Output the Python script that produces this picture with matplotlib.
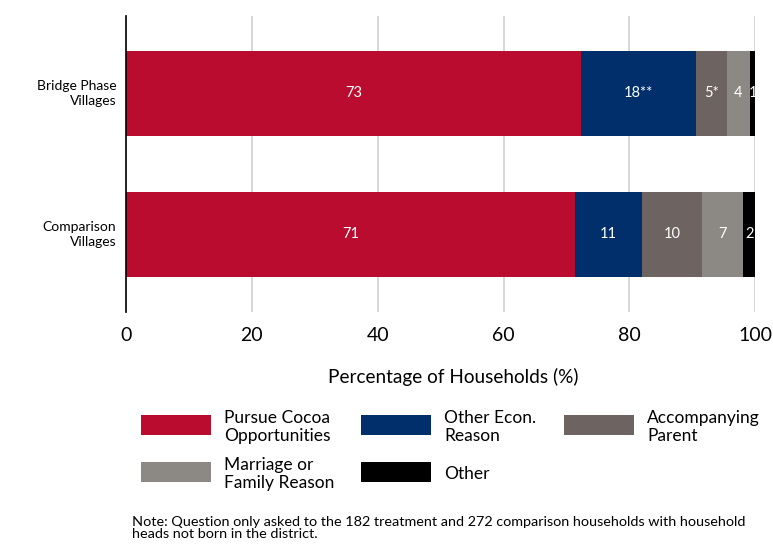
import numpy as np
import matplotlib.pyplot as plt
from matplotlib.patches import Rectangle

plt.rcParams['font.family'] = ['Lato', 'DejaVu Sans']

groups = ["Comparison\nVillages", "Bridge Phase\nVillages"]
categories = ["Pursue Cocoa\nOpportunities", "Other Econ.\nReason", "Accompanying\nParent",
              "Marriage or\nFamily Reason", "Other"]
# values per category: [Comparison, Bridge]
pursue = [71.4, 72.3]
econ = [10.6, 18.3]
parent = [9.6, 4.9]
family = [6.5, 3.7]
other = [1.9, 0.8]
labels_cmp = ["71", "11", "10", "7", "2"]
labels_bridge = ["73", "18**", "5*", "4", "1"]
colors = ["#BA0C2F", "#002F6C", "#6D6462", "#8C8984", "#000000"]
xticks = [0, 20, 40, 60, 80, 100]

series = [pursue, econ, parent, family, other]
bar_labels = [labels_cmp, labels_bridge]

W, H = 773, 545
fig = plt.figure(figsize=(W / 100, H / 100), dpi=100)
ax = fig.add_axes([0.163, 0.428, 0.814, 0.543])

y = np.arange(len(groups))
left = np.zeros(len(groups))
for i, vals in enumerate(series):
    vals = np.array(vals)
    ax.barh(y, vals, left=left, height=0.6, color=colors[i], zorder=2)
    for j in range(len(groups)):
        ax.text(left[j] + vals[j] / 2, y[j], bar_labels[j][i], color="white",
                ha="center", va="center", fontsize=10.5, zorder=3)
    left += vals

ax.set_xlim(0, 100)
ax.set_ylim(-0.55, 1.55)
ax.set_xticks(xticks)
ax.set_xticklabels([str(t) for t in xticks], fontsize=14)
ax.set_yticks(y)
ax.set_yticklabels(groups, fontsize=10, ha="right", va="center", linespacing=1.3)
ax.tick_params(axis="both", length=0)
ax.tick_params(axis="x", pad=11)
ax.tick_params(axis="y", pad=7)
ax.grid(axis="x", color="#d4d4d0", linewidth=1.3, zorder=0)
for s in ["top", "right", "bottom"]:
    ax.spines[s].set_visible(False)
ax.spines["left"].set_color("black")
ax.spines["left"].set_linewidth(1.2)
ax.spines["left"].set_zorder(4)
ax.set_xlabel("Percentage of Households (%)", fontsize=13.7)
ax.xaxis.set_label_coords((453 - 126) / 629, -(377 - 312) / 296)
ax.xaxis.label.set_va("center")

# legend, laid out by hand in pixel positions: 3 columns, 2 rows
col_x = [141, 361, 564]
row_y = [425, 472]
for k, lab in enumerate(categories):
    cx = col_x[k % 3]
    cy = row_y[k // 3]
    fig.add_artist(Rectangle((cx / W, 1 - (cy + 10) / H), 70 / W, 20 / H,
                             transform=fig.transFigure, facecolor=colors[k], edgecolor="none"))
    fig.text((cx + 83) / W, 1 - (cy + 2) / H, lab, fontsize=12.5, va="center", ha="left",
             linespacing=1.15)

fig.text(132 / W, 1 - 528 / H, "Note: Question only asked to the 182 treatment and 272 comparison households with household\n"
         "heads not born in the district.", fontsize=10.4, va="center", ha="left", linespacing=1.1)

plt.savefig("out.png", dpi=100)
